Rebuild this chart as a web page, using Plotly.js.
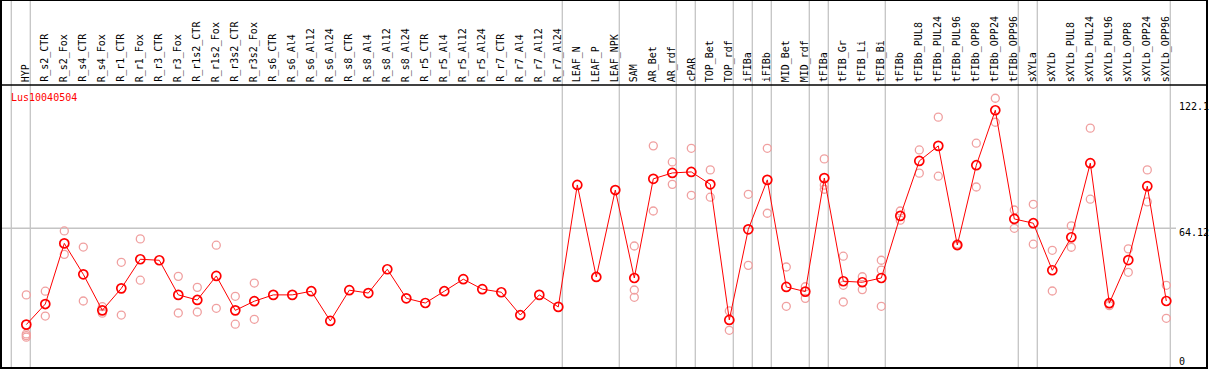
<!DOCTYPE html>
<html>
<head>
<meta charset="utf-8">
<script src="https://cdn.plot.ly/plotly-3.0.1.min.js"></script>
<style>
  html, body { margin: 0; padding: 0; background: #ffffff; }
  #chart { width: 1209px; height: 370px; }
</style>
</head>
<body>
<div id="chart"></div>
<script>
const geneName = "Lus10040504";

const categories = [
  "HYP", "R_s2_CTR", "R_s2_Fox", "R_s4_CTR", "R_s4_Fox", "R_r1_CTR", "R_r1_Fox",
  "R_r3_CTR", "R_r3_Fox", "R_r1s2_CTR", "R_r1s2_Fox", "R_r3s2_CTR", "R_r3s2_Fox",
  "R_s6_CTR", "R_s6_Al4", "R_s6_Al12", "R_s6_Al24", "R_s8_CTR", "R_s8_Al4",
  "R_s8_Al12", "R_s8_Al24", "R_r5_CTR", "R_r5_Al4", "R_r5_Al12", "R_r5_Al24",
  "R_r7_CTR", "R_r7_Al4", "R_r7_Al12", "R_r7_Al24", "LEAF_N", "LEAF_P", "LEAF_NPK",
  "SAM", "AR_Bet", "AR_rdf", "cPAR", "TOP_Bet", "TOP_rdf", "iFIBa", "iFIBb",
  "MID_Bet", "MID_rdf", "tFIBa", "tFIB_Gr", "tFIB_Li", "tFIB_Bi", "tFIBb",
  "tFIBb_PUL8", "tFIBb_PUL24", "tFIBb_PUL96", "tFIBb_OPP8", "tFIBb_OPP24",
  "tFIBb_OPP96", "sXYLa", "sXYLb", "sXYLb_PUL8", "sXYLb_PUL24", "sXYLb_PUL96",
  "sXYLb_OPP8", "sXYLb_OPP24", "sXYLb_OPP96"
];

const meanValues = [
  16.8, 26.9, 56.7, 41.5, 23.8, 34.6, 48.9,
  48.4, 31.4, 28.9, 40.7, 23.8, 28.3,
  31.4, 31.4, 33.2, 18.6, 33.7, 32.3,
  44.0, 29.7, 27.4, 33.2, 39.1, 34.2,
  32.7, 21.5, 31.4, 25.5, 85.4, 40.2, 82.9,
  39.7, 88.4, 91.3, 91.8, 85.7, 19.1, 63.6, 87.9,
  35.3, 33.0, 88.8, 38.1, 37.6, 39.7, 70.2,
  97.2, 104.6, 55.9, 95.1, 122.1,
  68.7, 66.6, 43.5, 59.7, 96.1, 27.3,
  48.5, 84.8, 28.4
];

const replicateValues = [
  [31.4, 12.2, 11.4, 10.6], [33.2, 21.0], [62.8, 51.3], [54.9, 28.4], [25.6, 22.4], [47.4, 21.5], [58.9, 38.6],
  [], [40.5, 22.5], [35.1, 23.0], [55.8, 24.8], [30.7, 17.0], [37.2, 19.4],
  [], [], [], [], [], [],
  [], [], [], [], [], [],
  [], [], [], [], [], [], [],
  [55.4, 33.8, 30.2], [104.6, 72.6], [96.7, 85.7], [103.4, 80.3], [92.8, 79.4], [23.5, 14.0], [80.8, 45.9], [103.4, 71.5],
  [45.1, 25.8], [35.4, 29.7], [98.2, 85.3, 83.3], [50.4, 36.1, 27.9], [40.3, 34.0], [48.4, 43.6, 25.8], [72.6, 68.1],
  [102.6, 91.2], [118.7, 89.7], [55.4, 56.4], [105.9, 84.4], [128.0, 116.2],
  [73.1, 64.1], [75.9, 56.3], [53.3, 33.3], [65.3, 54.8], [113.3, 78.4], [26.1, 27.0],
  [54.0, 42.5], [92.8, 77.1], [36.1, 19.9]
];

const axisTickValues = [0, 64.12, 122.1];
const axisTickLabels = ["0", "64.12", "122.1"];
const groupEndIndices = [-1, 0, 28, 31, 34, 35, 37, 38, 39, 41, 42, 45, 52, 53, 60];

const W = 1209, H = 370;
const M = { l: 1, r: 2, t: 85, b: 2 };
const plotW = W - M.l - M.r;
const plotH = H - M.t - M.b;
const step = 19;            // px per category
const firstPx = 25.3;       // px from plot left to first category
const xRange = [-firstPx / step, (plotW - firstPx) / step];
const yRange = [-4.52, 134.5];
const headerTop = 1 + M.t / plotH;
const FONT = "DejaVu Sans Mono, Liberation Mono, monospace";

const xIdx = categories.map((c, i) => i);

const repX = [], repY = [];
replicateValues.forEach((arr, i) => arr.forEach(v => { repX.push(i); repY.push(v); }));

const traces = [
  {
    x: repX, y: repY, type: "scatter", mode: "markers",
    marker: { symbol: "circle-open", size: 8, color: "#f0a0a0", line: { width: 1.3, color: "#f0a0a0" } },
    hoverinfo: "skip", showlegend: false
  },
  {
    x: xIdx, y: meanValues, type: "scatter", mode: "lines+markers",
    line: { color: "#ff0000", width: 1 },
    marker: { symbol: "circle-open", size: 9, color: "#ff0000", line: { width: 1.7, color: "#ff0000" } },
    hoverinfo: "skip", showlegend: false
  }
];

const shapes = [];
groupEndIndices.forEach(i => {
  shapes.push({
    type: "line", xref: "x", yref: "paper",
    x0: i + 4 / step, x1: i + 4 / step, y0: 0, y1: headerTop,
    line: { color: "#c4c4c4", width: 1.3 }, layer: "below"
  });
});
shapes.push({
  type: "line", xref: "paper", yref: "y",
  x0: 0, x1: (1176 - M.l) / plotW, y0: axisTickValues[1], y1: axisTickValues[1],
  line: { color: "#c4c4c4", width: 1.3 }, layer: "below"
});
shapes.push({
  type: "line", xref: "paper", yref: "paper",
  x0: 0, x1: 1, y0: 1, y1: 1,
  line: { color: "#000000", width: 1.5 }
});
shapes.push({
  type: "rect", xref: "paper", yref: "paper",
  x0: 0, x1: 1, y0: 0, y1: headerTop,
  line: { color: "#000000", width: 2 }, fillcolor: "rgba(0,0,0,0)"
});

const annotations = [];
categories.forEach((c, i) => {
  annotations.push({
    text: c, x: i, xref: "x", y: 1 + 2 / plotH, yref: "paper",
    xanchor: "center", yanchor: "bottom", textangle: -90, showarrow: false,
    font: { family: FONT, size: 10, color: "#000000" }, borderpad: 0
  });
});
annotations.push({
  text: geneName, x: (10 - M.l) / plotW, xref: "paper", y: 1 - (97.5 - M.t) / plotH, yref: "paper",
  xanchor: "left", yanchor: "middle", showarrow: false, borderpad: 0,
  font: { family: FONT, size: 10, color: "#ff0000" }
});
const tickShift = [-3, -4, 3.6];
axisTickValues.forEach((v, k) => {
  annotations.push({
    text: axisTickLabels[k], x: (1178 - M.l) / plotW, xref: "paper", y: v, yref: "y",
    xanchor: "left", yanchor: "middle", yshift: tickShift[k],
    showarrow: false, borderpad: 0,
    font: { family: FONT, size: 10, color: "#000000" }
  });
});

const layout = {
  width: W, height: H,
  margin: M,
  paper_bgcolor: "#ffffff", plot_bgcolor: "#ffffff",
  showlegend: false,
  xaxis: { range: xRange, visible: false, fixedrange: true },
  yaxis: { range: yRange, visible: false, fixedrange: true },
  shapes: shapes,
  annotations: annotations
};

Plotly.newPlot("chart", traces, layout, { staticPlot: true, displayModeBar: false });
</script>
</body>
</html>
